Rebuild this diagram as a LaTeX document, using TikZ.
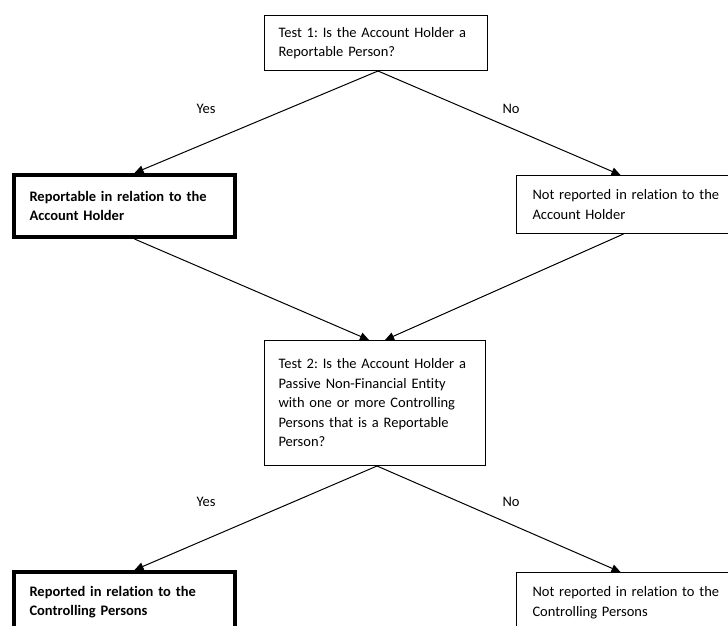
\documentclass[tikz,border=0pt]{standalone}
\usepackage{fontspec}
\setmainfont[Ligatures=NoCommon]{Carlito}
\usetikzlibrary{arrows.meta}
\frenchspacing
\begin{document}
\begin{tikzpicture}[x=1pt,y=-1pt,
  txt/.style={font=\fontsize{14.5}{19.5}\selectfont},
  box/.style={draw=black, line width=1pt, anchor=north west, align=left, inner xsep=0pt, inner ysep=0pt, txt},
  thickbox/.style={box, line width=4pt},
  conn/.style={line width=1pt, -{Triangle[length=9pt,width=8pt]}},
  lbl/.style={txt, inner sep=0pt, anchor=base}]
\useasboundingbox (0,0) rectangle (728,626);
% boxes
\node[box, minimum width=223pt, minimum height=55pt, text width=195pt] (t1) at (264,15)
  {Test 1: Is the Account Holder a\\Reportable Person?};
\node[thickbox, minimum width=221pt, minimum height=62pt, text width=190pt] (l1) at (12,173)
  {\bfseries Reportable in relation to the\\\bfseries Account Holder};
\node[box, minimum width=222pt, minimum height=58pt, text width=190pt] (r1) at (516,175)
  {Not reported in relation to the\\Account Holder};
\node[box, minimum width=221pt, minimum height=125pt, text width=193pt] (t2) at (264,340)
  {Test 2: Is the Account Holder a\\Passive Non-Financial Entity\\with one or more Controlling\\Persons that is a Reportable\\Person?};
\node[thickbox, minimum width=221pt, minimum height=60pt, text width=190pt] (l2) at (12,570)
  {\bfseries Reported in relation to the\\\bfseries Controlling Persons};
\node[box, minimum width=222pt, minimum height=60pt, text width=190pt] (r2) at (516,572)
  {Not reported in relation to the\\Controlling Persons};
% connectors
\draw[conn] ([xshift=2pt]t1.south) -- ([xshift=10pt]l1.north);
\draw[conn] ([xshift=2pt]t1.south) -- ([xshift=-7pt]r1.north);
\draw[conn] ([xshift=10pt]l1.south) -- ([xshift=-6pt]t2.north);
\draw[conn] ([xshift=-4pt]r1.south) -- ([xshift=10pt]t2.north);
\draw[conn] ([xshift=2pt]t2.south) -- ([xshift=10pt]l2.north);
\draw[conn] ([xshift=2pt]t2.south) -- ([xshift=-7pt]r2.north);
% labels
\node[lbl] (y1) at (206,113) {Yes};
\node[lbl] (n1) at (511,113) {No};
\node[lbl] (y2) at (206,506) {Yes};
\node[lbl] (n2) at (511,506) {No};
\end{tikzpicture}
\end{document}
